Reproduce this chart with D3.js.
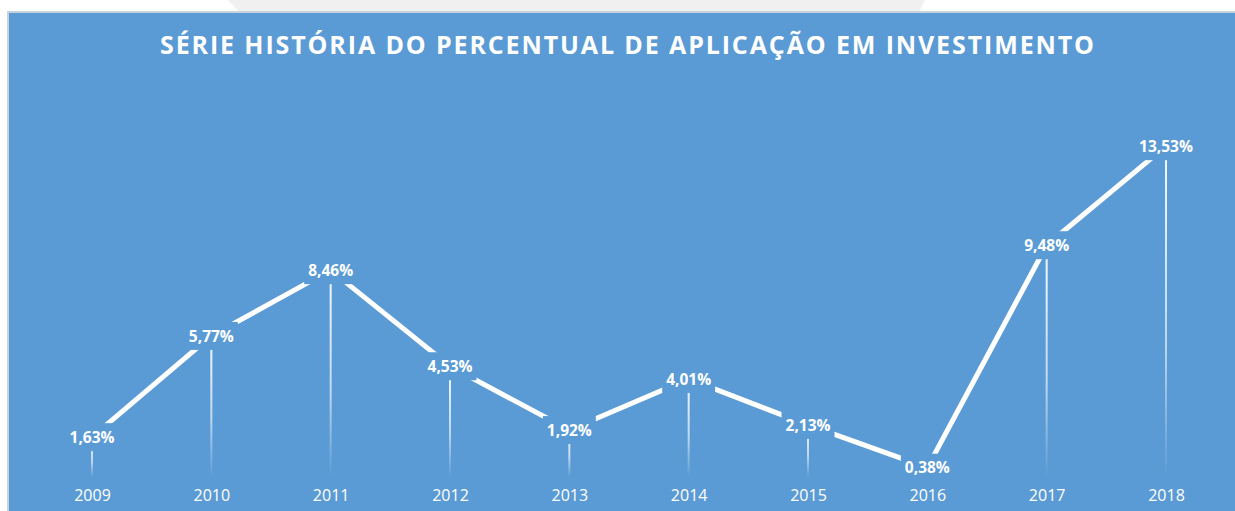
<!DOCTYPE html>
<html>
<head>
<meta charset="utf-8">
<script src="https://cdn.jsdelivr.net/npm/d3@7"></script>
<style>
  body { margin: 0; background: #fff; }
  svg { display: block; }
</style>
</head>
<body>
<script>
const width = 1235;
const height = 511;

// Data
const years = ['2009', '2010', '2011', '2012', '2013', '2014', '2015', '2016', '2017', '2018'];
const values = [1.63, 5.77, 8.46, 4.53, 1.92, 4.01, 2.13, 0.38, 9.48, 13.53];
const title = 'SÉRIE HISTÓRIA DO PERCENTUAL DE APLICAÇÃO EM INVESTIMENTO';

const bg = '#5b9bd5';
const fmt = v => v.toFixed(2).replace('.', ',') + '%';

const svg = d3.select('body')
  .append('svg')
  .attr('width', width)
  .attr('height', height);

// top strip (tab shape) and panel
svg.append('polygon')
  .attr('points', '228,0 925,0 919,12 239,12')
  .attr('fill', '#f0f0f0');

svg.append('rect')
  .attr('x', 7)
  .attr('y', 11)
  .attr('width', width - 7)
  .attr('height', height - 11)
  .attr('fill', '#c8d2dc');

svg.append('rect')
  .attr('x', 9)
  .attr('y', 13)
  .attr('width', width - 9)
  .attr('height', height - 13)
  .attr('fill', bg);

// gradient for drop lines
const defs = svg.append('defs');
const grad = defs.append('linearGradient')
  .attr('id', 'dropGradient')
  .attr('x1', '0%')
  .attr('x2', '0%')
  .attr('y1', '0%')
  .attr('y2', '100%');
grad.append('stop').attr('offset', '0%').attr('stop-color', '#fff').attr('stop-opacity', 0.95);
grad.append('stop').attr('offset', '60%').attr('stop-color', '#fff').attr('stop-opacity', 0.6);
grad.append('stop').attr('offset', '100%').attr('stop-color', '#fff').attr('stop-opacity', 0);

// Scales
const x = d3.scalePoint()
  .domain(years)
  .range([92, 1166]);
const y = d3.scaleLinear()
  .domain([0, 14])
  .range([477, 477 - 14 * 24.45]);

// Title
svg.append('text')
  .attr('x', 627)
  .attr('y', 54)
  .attr('text-anchor', 'middle')
  .attr('textLength', 934)
  .attr('lengthAdjust', 'spacing')
  .style('font-family', '"Open Sans", sans-serif')
  .style('font-weight', 'bold')
  .style('font-size', '25px')
  .style('fill', '#fff')
  .text(title);

// Drop lines
svg.append('g')
  .selectAll('rect')
  .data(values)
  .enter()
  .append('rect')
  .attr('x', (d, i) => x(years[i]) - 1)
  .attr('y', d => y(d))
  .attr('width', 2)
  .attr('height', d => y(0) - y(d))
  .attr('fill', 'url(#dropGradient)');

// Line
const line = d3.line()
  .x((d, i) => x(years[i]))
  .y(d => y(d));

svg.append('path')
  .datum(values)
  .attr('d', line)
  .attr('fill', 'none')
  .attr('stroke', '#fff')
  .attr('stroke-width', 5)
  .attr('stroke-linejoin', 'miter');

// Data labels with background boxes
const labels = svg.append('g')
  .selectAll('g')
  .data(values)
  .enter()
  .append('g')
  .attr('transform', (d, i) => `translate(${x(years[i])},${y(d)})`);

labels.append('rect').attr('class', 'box').attr('fill', bg);

labels.append('text')
  .attr('text-anchor', 'middle')
  .attr('dy', '0.36em')
  .style('font-family', '"Open Sans", sans-serif')
  .style('font-weight', 'bold')
  .style('font-size', '15.5px')
  .style('fill', '#fff')
  .text(d => fmt(d));

labels.each(function () {
  const g = d3.select(this);
  const w = g.select('text').node().getComputedTextLength();
  g.select('rect')
    .attr('x', -w / 2 - 4)
    .attr('y', -14)
    .attr('width', w + 8)
    .attr('height', 28);
});

// X axis
const xAxis = d3.axisBottom(x).tickSize(0).tickPadding(0);

const axisG = svg.append('g')
  .attr('transform', 'translate(0,490)')
  .call(xAxis);
axisG.select('.domain').remove();
axisG.selectAll('text')
  .style('font-family', '"Open Sans", sans-serif')
  .style('font-size', '16px')
  .style('fill', '#fff');
</script>
</body>
</html>
